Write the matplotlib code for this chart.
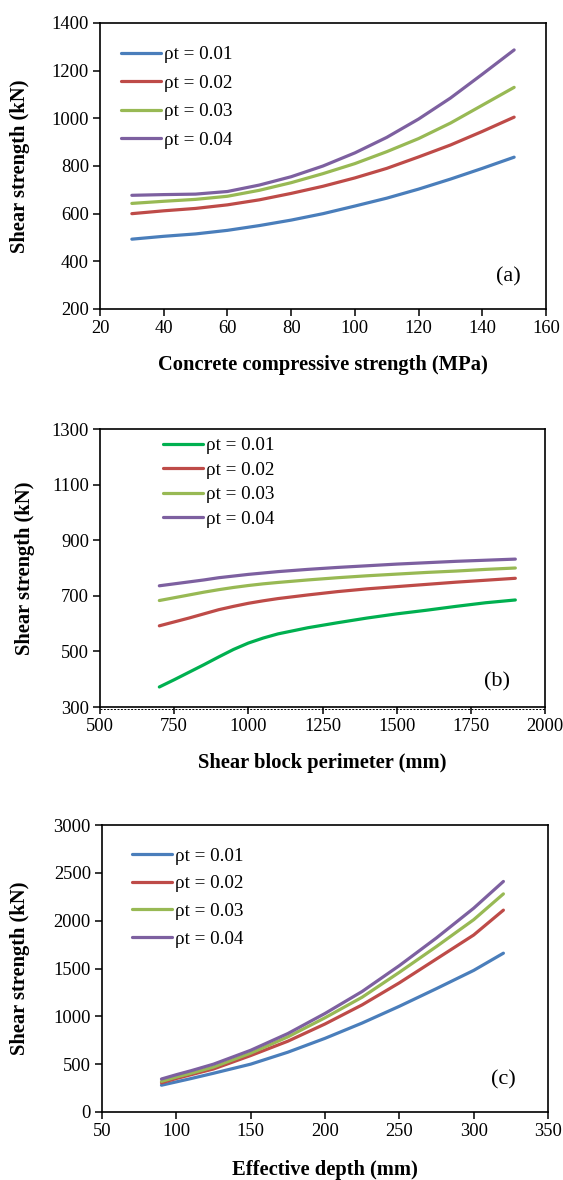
import matplotlib
matplotlib.use("Agg")
import matplotlib.pyplot as plt

plt.rcParams['font.family'] = ['Liberation Serif', 'DejaVu Serif']

# ---- data (a) ----
fc = [30, 40, 50, 60, 70, 80, 90, 100, 110, 120, 130, 140, 150]
a_01 = [493, 505, 515, 530, 550, 573, 600, 632, 665, 703, 745, 790, 837]
a_02 = [600, 612, 622, 637, 658, 685, 715, 750, 790, 838, 888, 945, 1005]
a_03 = [643, 652, 660, 673, 698, 730, 768, 810, 860, 915, 980, 1055, 1130]
a_04 = [677, 680, 682, 693, 720, 755, 800, 855, 920, 997, 1085, 1185, 1287]

# ---- data (b) ----
perim = [700, 750, 800, 850, 900, 950, 1000, 1050, 1100, 1200, 1300, 1400, 1500, 1600, 1700, 1800, 1900]
b_01 = [372, 398, 425, 452, 480, 507, 530, 548, 563, 585, 603, 620, 635, 648, 662, 675, 685]
b_02 = [592, 606, 620, 635, 650, 662, 673, 682, 690, 703, 715, 725, 733, 741, 749, 756, 763]
b_03 = [683, 693, 703, 713, 722, 730, 737, 743, 748, 757, 765, 772, 778, 784, 789, 795, 800]
b_04 = [736, 743, 750, 757, 765, 771, 777, 782, 787, 795, 802, 808, 814, 819, 824, 828, 832]

# ---- data (c) ----
depth = [90, 100, 110, 125, 150, 175, 200, 225, 250, 275, 300, 320]
c_01 = [280, 315, 350, 405, 500, 625, 770, 930, 1105, 1290, 1480, 1660]
c_02 = [305, 350, 390, 450, 590, 740, 920, 1120, 1350, 1600, 1850, 2110]
c_03 = [320, 365, 405, 470, 615, 785, 985, 1200, 1460, 1730, 2010, 2280]
c_04 = [345, 390, 432, 500, 645, 820, 1030, 1260, 1530, 1820, 2130, 2410]

labels = ['ρt = 0.01', 'ρt = 0.02', 'ρt = 0.03', 'ρt = 0.04']
colors_a = ['#4A7EBB', '#BE4B48', '#98B954', '#7D60A0']
colors_b = ['#00B050', '#BE4B48', '#98B954', '#7D60A0']

W, H = 563, 1180
fig = plt.figure(figsize=(W / 100, H / 100), dpi=100)

def px_axes(left, right, top, bottom):
    return fig.add_axes([left / W, 1 - bottom / H, (right - left) / W, (bottom - top) / H])

TICK_FS = 13.3
LAB_FS = 14.8
LEG_FS = 13.8
TAG_FS = 16
LW = 2.3

def style(ax, xlim, ylim, xticks, yticks, xlabel, ylabel, xl_y, yl_x, tag, tag_xy):
    ax.set_xlim(*xlim)
    ax.set_ylim(*ylim)
    ax.set_xticks(xticks)
    ax.set_yticks(yticks)
    for s in ax.spines.values():
        s.set_linewidth(1.2)
        s.set_color('black')
    ax.tick_params(direction='out', length=5, width=1.1, labelsize=TICK_FS, pad=3, colors='black')
    ax.set_xlabel(xlabel, fontsize=LAB_FS, fontweight='bold', va='center')
    ax.set_ylabel(ylabel, fontsize=LAB_FS, fontweight='bold', va='center')
    ax.xaxis.set_label_coords(0.5, xl_y)
    ax.yaxis.set_label_coords(yl_x, 0.5)
    ax.text(tag_xy[0], tag_xy[1], tag, transform=ax.transAxes, fontsize=TAG_FS,
            ha='right', va='center')

def legend(ax, x, y, spacing):
    ax.legend(loc='upper left', bbox_to_anchor=(x, y), frameon=False, fontsize=LEG_FS,
              handlelength=2.08, handletextpad=0.16, borderpad=0, borderaxespad=0,
              labelspacing=spacing)

# (a)
ax1 = px_axes(100, 546, 23, 309)
for ys, c, l in zip([a_01, a_02, a_03, a_04], colors_a, labels):
    ax1.plot(fc, ys, color=c, lw=LW, label=l, solid_capstyle='round', solid_joinstyle='round')
style(ax1, (20, 160), (200, 1400), range(20, 161, 20), range(200, 1401, 200),
      'Concrete compressive strength (MPa)', 'Shear strength (kN)', -0.196, -0.179,
      '(a)', (0.944, 0.112))
legend(ax1, 0.047, 0.92, 0.58)

# (b)
ax2 = px_axes(100, 545, 429, 707)
for ys, c, l in zip([b_01, b_02, b_03, b_04], colors_b, labels):
    ax2.plot(perim, ys, color=c, lw=LW, label=l, solid_capstyle='round', solid_joinstyle='round')
style(ax2, (500, 2000), (300, 1300), range(500, 2001, 250), range(300, 1301, 200),
      'Shear block perimeter (mm)', 'Shear strength (kN)', -0.201, -0.169,
      '(b)', (0.921, 0.09))
legend(ax2, 0.142, 0.971, 0.37)
ax2.plot([0, 1], [-0.007, -0.007], transform=ax2.transAxes, color='black',
         lw=0.7, ls=(0, (2, 1.5)), clip_on=False)

# (c)
ax3 = px_axes(102, 548, 825, 1112)
for ys, c, l in zip([c_01, c_02, c_03, c_04], colors_a, labels):
    ax3.plot(depth, ys, color=c, lw=LW, label=l, solid_capstyle='round', solid_joinstyle='round')
style(ax3, (50, 350), (0, 3000), range(50, 351, 50), range(0, 3001, 500),
      'Effective depth (mm)', 'Shear strength (kN)', -0.202, -0.184,
      '(c)', (0.928, 0.111))
legend(ax3, 0.067, 0.923, 0.54)

fig.savefig('out.png', dpi=100)
